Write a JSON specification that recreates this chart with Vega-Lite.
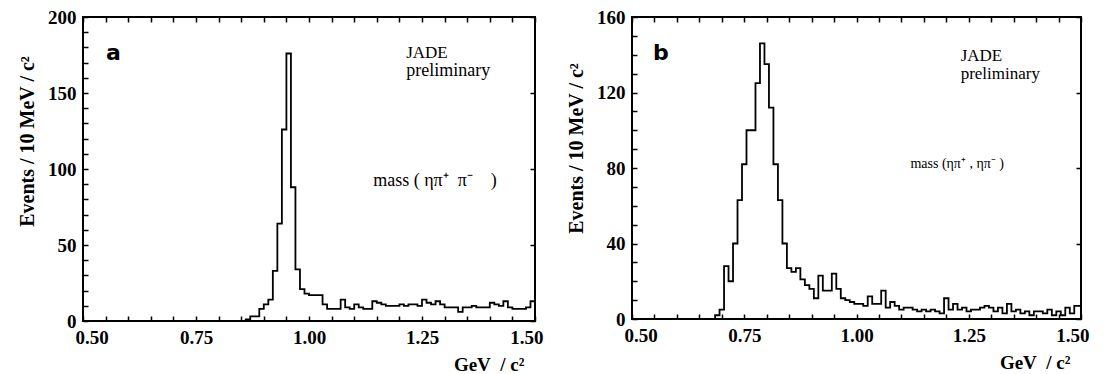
{
  "$schema": "https://vega.github.io/schema/vega-lite/v6.json",
  "background": "white",
  "padding": {"left": 16, "top": 7, "right": 20, "bottom": 2},
  "spacing": 97,
  "bounds": "flush",
  "config": {
    "font": "Liberation Serif",
    "view": {"stroke": "black", "strokeWidth": 2},
    "axis": {
      "domain": false, "grid": false, "zindex": 1,
      "labelFont": "Liberation Serif", "labelFontSize": 19, "labelFontWeight": "bold", "labelColor": "black",
      "titleFont": "Liberation Serif", "titleFontSize": 19, "titleColor": "black", "titleFontWeight": "bold",
      "tickColor": "black", "tickSize": -5, "tickWidth": 1.5
    }
  },
  "datasets": {
    "a": [
      {"m": 0.5, "n": 0}, {"m": 0.86, "n": 1}, {"m": 0.87, "n": 3}, {"m": 0.88, "n": 3},
      {"m": 0.89, "n": 8}, {"m": 0.9, "n": 11}, {"m": 0.91, "n": 14}, {"m": 0.92, "n": 33},
      {"m": 0.93, "n": 64}, {"m": 0.94, "n": 126}, {"m": 0.95, "n": 176}, {"m": 0.96, "n": 88},
      {"m": 0.97, "n": 34}, {"m": 0.98, "n": 21}, {"m": 0.99, "n": 18}, {"m": 1.0, "n": 17},
      {"m": 1.01, "n": 17}, {"m": 1.02, "n": 17}, {"m": 1.03, "n": 11}, {"m": 1.04, "n": 8},
      {"m": 1.05, "n": 8}, {"m": 1.06, "n": 8}, {"m": 1.07, "n": 14}, {"m": 1.08, "n": 9},
      {"m": 1.09, "n": 8}, {"m": 1.1, "n": 11}, {"m": 1.11, "n": 9}, {"m": 1.12, "n": 8},
      {"m": 1.13, "n": 8}, {"m": 1.14, "n": 13}, {"m": 1.15, "n": 12}, {"m": 1.16, "n": 11},
      {"m": 1.17, "n": 10}, {"m": 1.18, "n": 10}, {"m": 1.19, "n": 10}, {"m": 1.2, "n": 11},
      {"m": 1.21, "n": 10}, {"m": 1.22, "n": 11}, {"m": 1.23, "n": 11}, {"m": 1.24, "n": 10},
      {"m": 1.25, "n": 14}, {"m": 1.26, "n": 12}, {"m": 1.27, "n": 11}, {"m": 1.28, "n": 13},
      {"m": 1.29, "n": 11}, {"m": 1.3, "n": 9}, {"m": 1.31, "n": 9}, {"m": 1.32, "n": 9},
      {"m": 1.33, "n": 6}, {"m": 1.34, "n": 9}, {"m": 1.35, "n": 9}, {"m": 1.36, "n": 10},
      {"m": 1.37, "n": 9}, {"m": 1.38, "n": 9}, {"m": 1.39, "n": 9}, {"m": 1.4, "n": 12},
      {"m": 1.41, "n": 11}, {"m": 1.42, "n": 10}, {"m": 1.43, "n": 13}, {"m": 1.44, "n": 9},
      {"m": 1.45, "n": 8}, {"m": 1.46, "n": 8}, {"m": 1.47, "n": 8}, {"m": 1.48, "n": 9},
      {"m": 1.49, "n": 13}, {"m": 1.5, "n": 13}
    ],
    "b": [
      {"m": 0.5, "n": 0}, {"m": 0.685, "n": 2}, {"m": 0.695, "n": 5}, {"m": 0.705, "n": 28},
      {"m": 0.715, "n": 20}, {"m": 0.725, "n": 40}, {"m": 0.735, "n": 63}, {"m": 0.745, "n": 82},
      {"m": 0.755, "n": 100}, {"m": 0.765, "n": 100}, {"m": 0.775, "n": 125}, {"m": 0.785, "n": 146},
      {"m": 0.795, "n": 135}, {"m": 0.805, "n": 112}, {"m": 0.815, "n": 82}, {"m": 0.825, "n": 63},
      {"m": 0.835, "n": 40}, {"m": 0.845, "n": 27}, {"m": 0.855, "n": 25}, {"m": 0.865, "n": 27},
      {"m": 0.875, "n": 21}, {"m": 0.885, "n": 18}, {"m": 0.895, "n": 16}, {"m": 0.905, "n": 11},
      {"m": 0.915, "n": 23}, {"m": 0.925, "n": 15}, {"m": 0.935, "n": 15}, {"m": 0.945, "n": 24},
      {"m": 0.955, "n": 16}, {"m": 0.965, "n": 11}, {"m": 0.975, "n": 10}, {"m": 0.985, "n": 9},
      {"m": 0.995, "n": 8}, {"m": 1.005, "n": 8}, {"m": 1.015, "n": 7}, {"m": 1.025, "n": 12},
      {"m": 1.035, "n": 8}, {"m": 1.045, "n": 8}, {"m": 1.055, "n": 15}, {"m": 1.065, "n": 6},
      {"m": 1.075, "n": 9}, {"m": 1.085, "n": 7}, {"m": 1.095, "n": 5}, {"m": 1.105, "n": 6},
      {"m": 1.115, "n": 6}, {"m": 1.125, "n": 5}, {"m": 1.135, "n": 4}, {"m": 1.145, "n": 5},
      {"m": 1.155, "n": 4}, {"m": 1.165, "n": 5}, {"m": 1.175, "n": 4}, {"m": 1.185, "n": 3},
      {"m": 1.195, "n": 11}, {"m": 1.205, "n": 5}, {"m": 1.215, "n": 8}, {"m": 1.225, "n": 5},
      {"m": 1.235, "n": 6}, {"m": 1.245, "n": 4}, {"m": 1.255, "n": 5}, {"m": 1.265, "n": 5},
      {"m": 1.275, "n": 6}, {"m": 1.285, "n": 7}, {"m": 1.295, "n": 6}, {"m": 1.305, "n": 4},
      {"m": 1.315, "n": 6}, {"m": 1.325, "n": 3}, {"m": 1.335, "n": 8}, {"m": 1.345, "n": 4},
      {"m": 1.355, "n": 5}, {"m": 1.365, "n": 3}, {"m": 1.375, "n": 4}, {"m": 1.385, "n": 2},
      {"m": 1.395, "n": 4}, {"m": 1.405, "n": 4}, {"m": 1.415, "n": 3}, {"m": 1.425, "n": 5},
      {"m": 1.435, "n": 2}, {"m": 1.445, "n": 4}, {"m": 1.455, "n": 2}, {"m": 1.465, "n": 6},
      {"m": 1.475, "n": 3}, {"m": 1.485, "n": 7}, {"m": 1.5, "n": 0}
    ],
    "notes": [{"k": 1}]
  },
  "hconcat": [
    {
      "width": 452, "height": 304,
      "resolve": {"axis": {"x": "independent", "y": "independent"}},
      "layer": [
        {
          "data": {"name": "a"},
          "mark": {"type": "line", "interpolate": "step-after", "color": "black", "strokeWidth": 1.8},
          "encoding": {
            "x": {"field": "m", "type": "quantitative", "scale": {"domain": [0.5, 1.5], "nice": false, "zero": false},
              "axis": {"values": [0.5,0.55,0.6,0.65,0.7,0.75,0.8,0.85,0.9,0.95,1.0,1.05,1.1,1.15,1.2,1.25,1.3,1.35,1.4,1.45,1.5],
                "labelExpr": "abs(datum.value*4 - round(datum.value*4)) < 0.001 ? format(datum.value, '.2f') : ''",
                "labelPadding": 12, "labelFlushOffset": 8, "title": "GeV\u00a0\u00a0/\u00a0c²", "titleAnchor": "end", "titleX": 441, "titlePadding": 8}},
            "y": {"field": "n", "type": "quantitative", "scale": {"domain": [0, 200], "nice": false},
              "axis": {"values": [0,10,20,30,40,50,60,70,80,90,100,110,120,130,140,150,160,170,180,190,200],
                "labelExpr": "datum.value % 50 === 0 ? datum.label : ''",
                "labelPadding": 12, "title": "Events / 10 MeV / c²", "titleFontSize": 20, "titleY": 124, "titlePadding": 10}}
          }
        },
        {
          "data": {"name": "a"},
          "mark": {"type": "line", "interpolate": "step-after", "opacity": 0},
          "encoding": {
            "x": {"field": "m", "type": "quantitative", "axis": {"orient": "top", "labels": false, "title": null, "values": [0.5,0.55,0.6,0.65,0.7,0.75,0.8,0.85,0.9,0.95,1.0,1.05,1.1,1.15,1.2,1.25,1.3,1.35,1.4,1.45,1.5]}},
            "y": {"field": "n", "type": "quantitative", "axis": {"orient": "right", "labels": false, "title": null, "values": [0,50,100,150,200]}}
          }
        },
        {
          "data": {"name": "notes"},
          "mark": {"type": "text", "font": "DejaVu Sans", "fontWeight": "bold", "fontSize": 22, "align": "left", "baseline": "middle"},
          "encoding": {"x": {"datum": 0.551, "axis": null}, "y": {"datum": 176, "axis": null}, "text": {"value": "a"}}
        },
        {
          "data": {"name": "notes"},
          "mark": {"type": "text", "font": "Liberation Serif", "fontSize": 17, "align": "left", "baseline": "middle"},
          "encoding": {"x": {"datum": 1.215, "axis": null}, "y": {"datum": 176.5, "axis": null}, "text": {"value": "JADE"}}
        },
        {
          "data": {"name": "notes"},
          "mark": {"type": "text", "font": "Liberation Serif", "fontSize": 18, "align": "left", "baseline": "middle"},
          "encoding": {"x": {"datum": 1.215, "axis": null}, "y": {"datum": 164.5, "axis": null}, "text": {"value": "preliminary"}}
        },
        {
          "data": {"name": "notes"},
          "mark": {"type": "text", "font": "Liberation Serif", "fontSize": 18, "align": "left", "baseline": "middle"},
          "encoding": {"x": {"datum": 1.142, "axis": null}, "y": {"datum": 92, "axis": null}, "text": {"value": "mass ( ηπ⁺\u00a0\u00a0π⁻\u00a0\u00a0\u00a0\u00a0)"}}
        }
      ]
    },
    {
      "width": 449, "height": 302,
      "resolve": {"axis": {"x": "independent", "y": "independent"}},
      "layer": [
        {
          "data": {"name": "b"},
          "mark": {"type": "line", "interpolate": "step-after", "color": "black", "strokeWidth": 1.8},
          "encoding": {
            "x": {"field": "m", "type": "quantitative", "scale": {"domain": [0.5, 1.5], "nice": false, "zero": false},
              "axis": {"values": [0.5,0.55,0.6,0.65,0.7,0.75,0.8,0.85,0.9,0.95,1.0,1.05,1.1,1.15,1.2,1.25,1.3,1.35,1.4,1.45,1.5],
                "labelExpr": "abs(datum.value*4 - round(datum.value*4)) < 0.001 ? format(datum.value, '.2f') : ''",
                "labelPadding": 12, "labelFlushOffset": 8, "title": "GeV\u00a0\u00a0/\u00a0c²", "titleAnchor": "end", "titleX": 438, "titlePadding": 8}},
            "y": {"field": "n", "type": "quantitative", "scale": {"domain": [0, 160], "nice": false},
              "axis": {"values": [0,10,20,30,40,50,60,70,80,90,100,110,120,130,140,150,160],
                "labelExpr": "datum.value % 40 === 0 ? datum.label : ''",
                "labelPadding": 12, "title": "Events / 10 MeV / c²", "titleFontSize": 20, "titleY": 131, "titlePadding": 10}}
          }
        },
        {
          "data": {"name": "b"},
          "mark": {"type": "line", "interpolate": "step-after", "opacity": 0},
          "encoding": {
            "x": {"field": "m", "type": "quantitative", "axis": {"orient": "top", "labels": false, "title": null, "values": [0.5,0.55,0.6,0.65,0.7,0.75,0.8,0.85,0.9,0.95,1.0,1.05,1.1,1.15,1.2,1.25,1.3,1.35,1.4,1.45,1.5]}},
            "y": {"field": "n", "type": "quantitative", "axis": {"orient": "right", "labels": false, "title": null, "values": [0,40,80,120,160]}}
          }
        },
        {
          "data": {"name": "notes"},
          "mark": {"type": "text", "font": "DejaVu Sans", "fontWeight": "bold", "fontSize": 22, "align": "left", "baseline": "middle"},
          "encoding": {"x": {"datum": 0.547, "axis": null}, "y": {"datum": 141, "axis": null}, "text": {"value": "b"}}
        },
        {
          "data": {"name": "notes"},
          "mark": {"type": "text", "font": "Liberation Serif", "fontSize": 17, "align": "left", "baseline": "middle"},
          "encoding": {"x": {"datum": 1.232, "axis": null}, "y": {"datum": 139.5, "axis": null}, "text": {"value": "JADE"}}
        },
        {
          "data": {"name": "notes"},
          "mark": {"type": "text", "font": "Liberation Serif", "fontSize": 17, "align": "left", "baseline": "middle"},
          "encoding": {"x": {"datum": 1.232, "axis": null}, "y": {"datum": 130, "axis": null}, "text": {"value": "preliminary"}}
        },
        {
          "data": {"name": "notes"},
          "mark": {"type": "text", "font": "Liberation Serif", "fontSize": 14, "align": "left", "baseline": "middle"},
          "encoding": {"x": {"datum": 1.12, "axis": null}, "y": {"datum": 82, "axis": null}, "text": {"value": "mass (ηπ⁺ , ηπ⁻\u00a0)"}}
        }
      ]
    }
  ]
}
